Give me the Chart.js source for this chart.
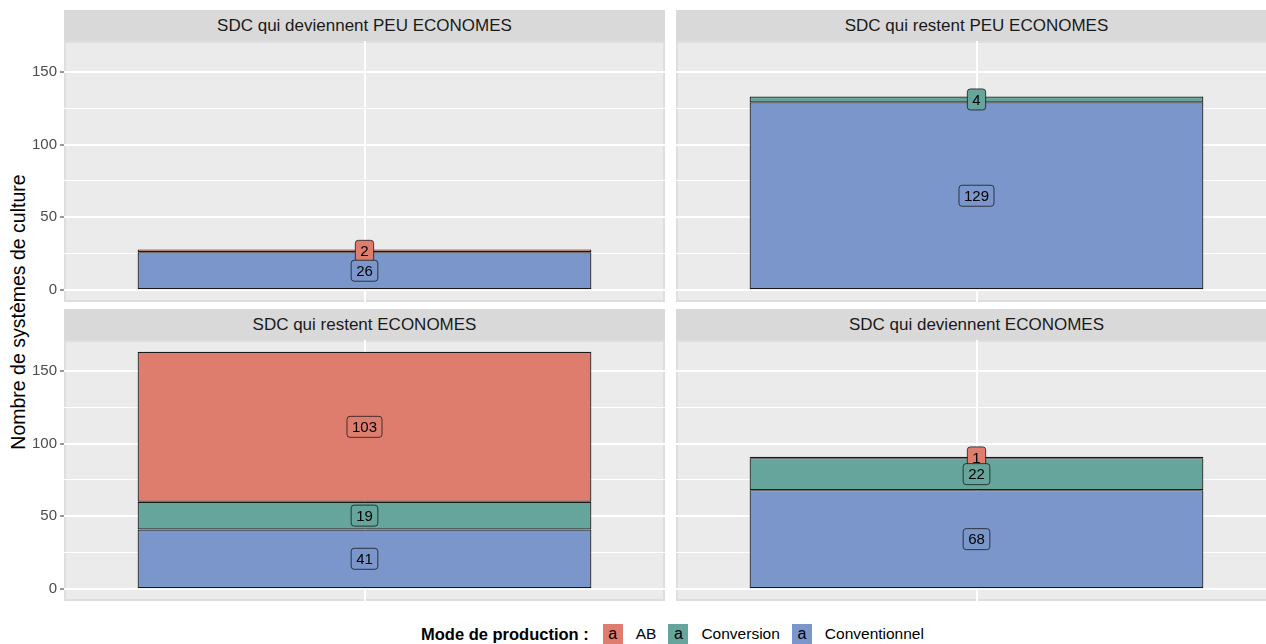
<!DOCTYPE html>
<html>
<head>
<meta charset="utf-8">
<script src="https://cdn.jsdelivr.net/npm/chart.js@4"></script>
<style>
  body { margin: 0; background: #fff; font-family: "Liberation Sans", Arial, sans-serif; }
  #wrap { position: relative; width: 1266px; height: 644px; overflow: hidden; }
  canvas { position: absolute; }
  .strip { position: absolute; height: 31px; background: #D9D9D9; color: #1A1A1A;
           font-size: 17px; line-height: 31px; text-align: center; }
  #ytitle { position: absolute; left: 18px; top: 312px; transform: translate(-50%, -50%) rotate(-90deg);
            font-size: 19.5px; color: #000; white-space: nowrap; }
  #legend { position: absolute; left: 421px; top: 624px; height: 20px;
            display: flex; align-items: center; color: #000; white-space: nowrap; }
  #legend b { font-size: 16.5px; margin-right: 14px; }
  .key { display: inline-block; width: 20px; height: 20px; line-height: 20px; text-align: center;
         font-size: 16px; margin-right: 13px; }
  .lab { font-size: 15.5px; margin-right: 12px; }
</style>
</head>
<body>
<div id="wrap">
  <div id="ytitle">Nombre de systèmes de culture</div>
  <div id="legend"></div>
</div>
<script>
// facettes (ordre : haut-gauche, haut-droite, bas-gauche, bas-droite)
var panelTitles = ['SDC qui deviennent PEU ECONOMES', 'SDC qui restent PEU ECONOMES',
                   'SDC qui restent ECONOMES', 'SDC qui deviennent ECONOMES'];
var modes = ['AB', 'Conversion', 'Conventionnel'];
var modeColors = ['#DE7D6E', '#66A59B', '#7B96CB'];
// valeurs par mode, une case par facette
var abValues = [2, null, 103, 1];
var conversionValues = [null, 4, 19, 22];
var conventionnelValues = [26, 129, 41, 68];
var yTicks = [0, 50, 100, 150];
var yMinorTicks = [25, 75, 125];

// le panneau de droite depasse du cadre (image rognee)
var panels = [
  { left: 0, top: 41, width: 665, axis: true },
  { left: 676, top: 41, width: 601, axis: false },
  { left: 0, top: 340, width: 665, axis: true },
  { left: 676, top: 340, width: 601, axis: false }
];

var wrap = document.getElementById('wrap');

var panelBg = {
  id: 'panelBg',
  beforeDraw: function(chart) {
    var a = chart.chartArea, c = chart.ctx;
    c.save();
    c.fillStyle = '#EBEBEB';
    c.fillRect(a.left, a.top, a.right - a.left, a.bottom - a.top);
    c.strokeStyle = '#DEDEDE';
    c.lineWidth = 2;
    c.strokeRect(a.left + 1, a.top + 1, a.right - a.left - 2, a.bottom - a.top - 2);
    c.restore();
  }
};

function roundRect(c, x, y, w, h, r) {
  c.beginPath();
  c.moveTo(x + r, y);
  c.lineTo(x + w - r, y);
  c.quadraticCurveTo(x + w, y, x + w, y + r);
  c.lineTo(x + w, y + h - r);
  c.quadraticCurveTo(x + w, y + h, x + w - r, y + h);
  c.lineTo(x + r, y + h);
  c.quadraticCurveTo(x, y + h, x, y + h - r);
  c.lineTo(x, y + r);
  c.quadraticCurveTo(x, y, x + r, y);
  c.closePath();
}

// etiquettes type geom_label, au milieu de chaque segment
var stackLabels = {
  id: 'stackLabels',
  afterDatasetsDraw: function(chart) {
    var c = chart.ctx;
    c.save();
    c.font = '15px "Liberation Sans", Arial, sans-serif';
    c.textAlign = 'center';
    c.textBaseline = 'middle';
    for (var d = chart.data.datasets.length - 1; d >= 0; d--) {
      var ds = chart.data.datasets[d];
      var meta = chart.getDatasetMeta(d);
      meta.data.forEach(function(bar, i) {
        var v = ds.data[i];
        if (v == null) return;
        var txt = String(v);
        var cy = (bar.y + bar.base) / 2;
        var w = c.measureText(txt).width + 10;
        var h = 21;
        roundRect(c, bar.x - w / 2, cy - h / 2, w, h, 3);
        c.fillStyle = ds.backgroundColor;
        c.fill();
        c.lineWidth = 0.8;
        c.strokeStyle = '#1A1A1A';
        c.stroke();
        c.fillStyle = '#000';
        c.fillText(txt, bar.x, cy + 1);
      });
    }
    c.restore();
  }
};

panels.forEach(function(p, k) {
  var strip = document.createElement('div');
  strip.className = 'strip';
  strip.style.left = (p.axis ? 64 : p.left) + 'px';
  strip.style.width = (p.axis ? p.width - 64 : p.width) + 'px';
  strip.style.top = (p.top - 31) + 'px';
  strip.textContent = panelTitles[k];
  wrap.appendChild(strip);

  var cv = document.createElement('canvas');
  cv.width = p.width;
  cv.height = 261;
  cv.style.left = p.left + 'px';
  cv.style.top = p.top + 'px';
  wrap.appendChild(cv);

  var series = [conventionnelValues, conversionValues, abValues];
  var idx = [2, 1, 0];
  new Chart(cv.getContext('2d'), {
    type: 'bar',
    data: {
      labels: [panelTitles[k]],
      datasets: series.map(function(vals, j) {
        return {
          label: modes[idx[j]],
          data: [vals[k]],
          backgroundColor: modeColors[idx[j]],
          borderColor: '#1A1A1A',
          borderWidth: 1.2,
          borderSkipped: false,
          barPercentage: 0.755,
          categoryPercentage: 1
        };
      })
    },
    options: {
      responsive: false,
      animation: false,
      devicePixelRatio: 1,
      layout: { padding: 0 },
      plugins: { legend: { display: false }, tooltip: { enabled: false } },
      scales: {
        x: {
          stacked: true,
          ticks: { display: false },
          border: { display: false },
          grid: { offset: false, color: '#FFFFFF', lineWidth: 2, drawTicks: false },
          afterFit: function(s) { s.height = 0; s.paddingLeft = 0; s.paddingRight = 0; }
        },
        y: {
          stacked: true,
          min: -8.15,
          max: 171.15,
          border: { display: false },
          afterBuildTicks: function(s) {
            s.ticks = yTicks.concat(yMinorTicks).sort(function(a, b) { return a - b; })
              .map(function(v) { return { value: v }; });
          },
          afterFit: function(s) {
            s.width = p.axis ? 64 : 0;
            s.paddingTop = 0;
            s.paddingBottom = 0;
          },
          ticks: {
            display: p.axis,
            color: '#4D4D4D',
            padding: 3,
            font: { family: '"Liberation Sans", Arial, sans-serif', size: 15 },
            callback: function(v) { return yTicks.indexOf(v) >= 0 ? String(v) : ''; }
          },
          grid: {
            color: '#FFFFFF',
            lineWidth: function(ctx) { return yTicks.indexOf(ctx.tick.value) >= 0 ? 2 : 1; },
            drawTicks: p.axis,
            tickLength: 4,
            tickColor: function(ctx) { return yTicks.indexOf(ctx.tick.value) >= 0 ? '#333333' : 'rgba(0,0,0,0)'; },
            tickWidth: 1
          }
        }
      }
    },
    plugins: [panelBg, stackLabels]
  });
});

// legende
var leg = document.getElementById('legend');
var title = document.createElement('b');
title.textContent = 'Mode de production :';
leg.appendChild(title);
modes.forEach(function(m, i) {
  var key = document.createElement('span');
  key.className = 'key';
  key.style.background = modeColors[i];
  key.textContent = 'a';
  leg.appendChild(key);
  var lab = document.createElement('span');
  lab.className = 'lab';
  lab.textContent = m;
  leg.appendChild(lab);
});
</script>
</body>
</html>
